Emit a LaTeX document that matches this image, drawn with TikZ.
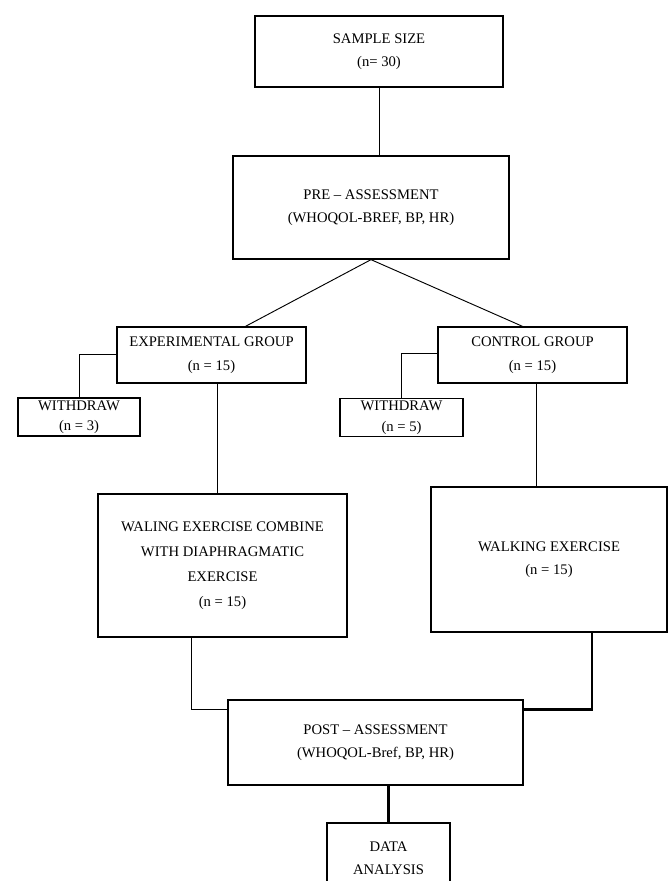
\documentclass[tikz,border=0pt]{standalone}
\usepackage{fontspec}
\setmainfont{Liberation Serif}
\usepackage{tikz}
\usetikzlibrary{positioning, calc}

\tikzset{
  box/.style={draw, line width=1.1pt, align=center, inner sep=2pt, font=\fontsize{12.5}{20}\selectfont},
  smallbox/.style={box, font=\fontsize{12.5}{17.5}\selectfont},
  link/.style={line width=0.8pt},
  heavylink/.style={line width=2pt}
}

\begin{document}
\begin{tikzpicture}[x=0.03cm, y=-0.03cm]
  \useasboundingbox (0,0) rectangle (668,881);

  % top of the flow
  \node[box, minimum width=7.44cm, minimum height=2.13cm] (sample) at (379,51.5) {SAMPLE SIZE\\(n= 30)};
  \node[box, minimum width=8.28cm, minimum height=3.09cm] (pre) at (371,207.5) {PRE -- ASSESSMENT\\(WHOQOL-BREF, BP, HR)};

  % the two groups
  \node[box, minimum width=5.67cm, minimum height=1.68cm] (exp) at (211.5,355) {EXPERIMENTAL GROUP\\(n = 15)};
  \node[box, minimum width=5.67cm, minimum height=1.68cm] (ctrl) at (532.5,355) {CONTROL GROUP\\(n = 15)};
  \node[smallbox, minimum width=3.66cm, minimum height=1.08cm] (wexp) at (79,417) {WITHDRAW\\(n = 3)};
  \node[smallbox, minimum width=3.69cm, minimum height=1.11cm] (wctrl) at (401.5,417.5) {WITHDRAW\\(n = 5)};

  % interventions
  \node[box, font=\fontsize{12.5}{21.5}\selectfont, minimum width=7.47cm, minimum height=4.29cm] (waling) at (222.5,565.5) {WALING EXERCISE COMBINE\\WITH DIAPHRAGMATIC\\EXERCISE\\(n = 15)};
  \node[box, minimum width=7.08cm, minimum height=4.35cm] (walking) at (549,559.5) {WALKING EXERCISE\\(n = 15)};

  % end of the flow
  \node[box, minimum width=8.85cm, minimum height=2.55cm] (post) at (375.5,742.5) {POST -- ASSESSMENT\\(WHOQOL-Bref, BP, HR)};
  \node[box, minimum width=3.69cm, minimum height=2.13cm] (data) at (388.5,858.5) {DATA\\ANALYSIS};

  \coordinate (expout) at ($(exp.south)+(6,0)$);
  \coordinate (ctrlout) at ($(ctrl.south)+(4,0)$);
  \coordinate (postout) at ($(post.south)+(13,0)$);
  \coordinate (walingout) at ($(waling.south)+(-31,0)$);
  \coordinate (walkingout) at ($(walking.south)+(43,0)$);

  \draw[link] (sample.south) -- (sample.south |- pre.north);
  \draw[link] (pre.south) -- ($(exp.north)+(34,0)$);
  \draw[link] (pre.south) -- ($(ctrl.north)+(-10,0)$);
  \draw[link] ($(exp.west)+(0,-1)$) -| (wexp.north);
  \draw[link] ($(ctrl.west)+(0,-2)$) -| (wctrl.north);
  \draw[link] (expout) -- (expout |- waling.north);
  \draw[link] (ctrlout) -- (ctrlout |- walking.north);
  \draw[link] (walingout) |- ($(post.north west)+(0,10)$);
  \draw[heavylink] (walkingout) |- ($(post.north east)+(0,10)$);
  \draw[heavylink] (postout) -- (postout |- data.north);
\end{tikzpicture}
\end{document}
